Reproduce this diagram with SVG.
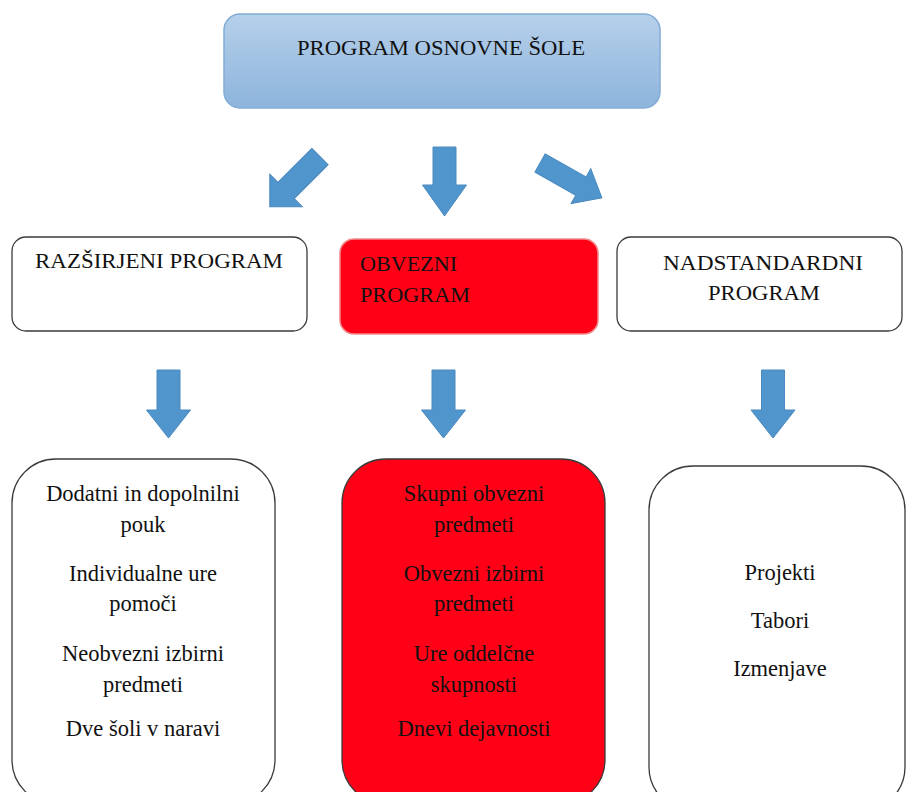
<svg xmlns="http://www.w3.org/2000/svg" width="906" height="792" viewBox="0 0 906 792">
  <defs>
    <linearGradient id="topFill" x1="0" y1="0" x2="0" y2="1">
      <stop offset="0" stop-color="#b6d0ea"/>
      <stop offset="1" stop-color="#8db4dc"/>
    </linearGradient>
  </defs>
  <style>
    text { font-family: "Liberation Serif", "Times New Roman", serif; font-size: 21px; fill: #111; }
    .c { text-anchor: middle; }
    .item { font-size: 22.5px; }
    .white { fill: #ffffff; stroke: #3a3a3a; stroke-width: 1.3; }
    .red { fill: #ff0016; stroke: #3a3a3a; stroke-width: 1.3; }
    .arrow { fill: #5096cc; stroke: #4a88bf; stroke-width: 1; }
  </style>

  <rect width="906" height="792" fill="#ffffff"/>

  <g id="program-osnovne-sole">
    <rect x="224" y="14" width="436" height="94" rx="16" fill="url(#topFill)" stroke="#82acd6" stroke-width="1.5"/>
    <text class="c" x="441" y="55" textLength="288" lengthAdjust="spacingAndGlyphs">PROGRAM OSNOVNE ŠOLE</text>
  </g>

  <!-- block arrows, each drawn pointing down from its tail centre, then rotated -->
  <g id="connectors">
    <path class="arrow" transform="translate(320,156.5) rotate(45)" d="M -11.5 0 L 11.5 0 L 11.5 48 L 23 48 L 0 71 L -23 48 L -11.5 48 Z"/>
    <path class="arrow" transform="translate(444.5,147)" d="M -11.5 0 L 11.5 0 L 11.5 38 L 22 38 L 0 69 L -22 38 L -11.5 38 Z"/>
    <path class="arrow" transform="translate(540,163) rotate(-60.6)" d="M -10.5 0 L 10.5 0 L 10.5 47 L 20 47 L 0 71 L -20 47 L -10.5 47 Z"/>
    <path class="arrow" transform="translate(168.5,370)" d="M -11.5 0 L 11.5 0 L 11.5 40 L 22 40 L 0 68 L -22 40 L -11.5 40 Z"/>
    <path class="arrow" transform="translate(443.5,370)" d="M -11.5 0 L 11.5 0 L 11.5 40 L 22 40 L 0 68 L -22 40 L -11.5 40 Z"/>
    <path class="arrow" transform="translate(773,370)" d="M -11.5 0 L 11.5 0 L 11.5 40 L 22 40 L 0 68 L -22 40 L -11.5 40 Z"/>
  </g>

  <g id="razsirjeni-program">
    <rect class="white" x="12" y="237" width="295" height="94" rx="14"/>
    <text x="35" y="268" textLength="248" lengthAdjust="spacingAndGlyphs">RAZŠIRJENI PROGRAM</text>
  </g>

  <g id="obvezni-program">
    <rect x="340" y="239" width="258" height="95" rx="14" fill="#ff0016" stroke="#f08a8a" stroke-width="1.5"/>
    <text x="360" y="271" textLength="97" lengthAdjust="spacingAndGlyphs">OBVEZNI</text>
    <text x="360" y="302" textLength="110" lengthAdjust="spacingAndGlyphs">PROGRAM</text>
  </g>

  <g id="nadstandardni-program">
    <rect class="white" x="617" y="237" width="285" height="94" rx="14"/>
    <text x="663" y="270" textLength="200" lengthAdjust="spacingAndGlyphs">NADSTANDARDNI</text>
    <text x="708" y="300" textLength="112" lengthAdjust="spacingAndGlyphs">PROGRAM</text>
  </g>

  <g id="razsirjeni-vsebine">
    <rect class="white" x="12" y="459" width="263" height="345" rx="44"/>
    <text class="c item" x="143" y="501">Dodatni in dopolnilni</text>
    <text class="c item" x="143" y="532">pouk</text>
    <text class="c item" x="143" y="581">Individualne ure</text>
    <text class="c item" x="143" y="611">pomoči</text>
    <text class="c item" x="143" y="661">Neobvezni izbirni</text>
    <text class="c item" x="143" y="692">predmeti</text>
    <text class="c item" x="143" y="736">Dve šoli v naravi</text>
  </g>

  <g id="obvezni-vsebine">
    <rect class="red" x="342" y="459" width="263" height="345" rx="44"/>
    <text class="c item" x="474" y="501">Skupni obvezni</text>
    <text class="c item" x="474" y="532">predmeti</text>
    <text class="c item" x="474" y="581">Obvezni izbirni</text>
    <text class="c item" x="474" y="611">predmeti</text>
    <text class="c item" x="474" y="661">Ure oddelčne</text>
    <text class="c item" x="474" y="692">skupnosti</text>
    <text class="c item" x="474" y="736">Dnevi dejavnosti</text>
  </g>

  <g id="nadstandardni-vsebine">
    <rect class="white" x="649" y="466" width="256" height="345" rx="44"/>
    <text class="c item" x="780" y="580">Projekti</text>
    <text class="c item" x="780" y="628">Tabori</text>
    <text class="c item" x="780" y="676">Izmenjave</text>
  </g>
</svg>
